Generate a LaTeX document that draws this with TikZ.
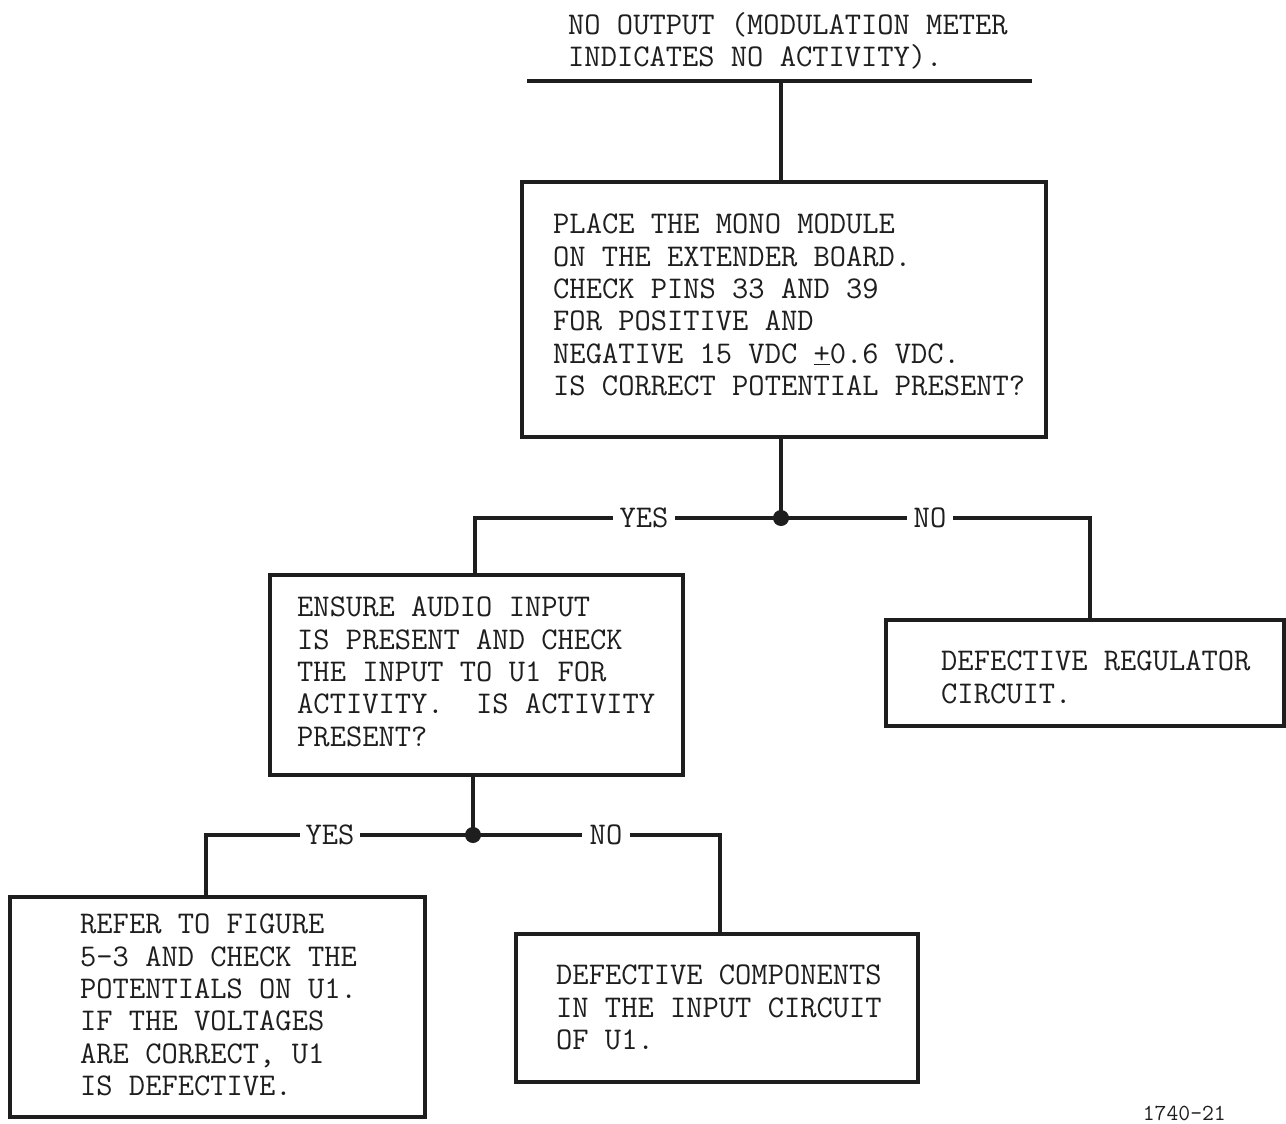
\documentclass[tikz,border=0pt]{standalone}
\usepackage{fontspec}
\usetikzlibrary{calc}
\definecolor{ink}{HTML}{1E1E1E}
\tikzset{
  frame/.style={draw=ink, line width=3.5pt, rectangle, inner sep=0pt},
  txt/.style={text=ink, inner sep=0pt, align=left, anchor=north west,
    font=\ttfamily\fontsize{31.6}{32.3}\selectfont},
  lbl/.style={text=ink, fill=white, inner sep=7pt,
    font=\ttfamily\fontsize{31.6}{32.3}\selectfont},
  wire/.style={draw=ink, line width=3.5pt},
  junc/.style={circle, fill=ink, inner sep=0pt, minimum size=16pt},
}
\begin{document}
\begin{tikzpicture}[x=1pt,y=-1pt]
\useasboundingbox (0,0) rectangle (1286,1124);
\fill[white] (0,0) rectangle (1286,1124);

% top title and line
\node[txt] (title) at (568,12) {NO OUTPUT (MODULATION METER\\INDICATES NO ACTIVITY).};
\coordinate (tl) at (527,81);
\coordinate (tr) at (1032,81);
\coordinate (tj) at (781,81);
\draw[wire] (tl) -- (tr);

% boxes
\node[frame, minimum width=524pt, minimum height=255pt] (b1) at (784,309.5) {};
\node[txt] (t1) at (553,214) {PLACE THE MONO MODULE\\ON THE EXTENDER BOARD.\\CHECK PINS 33 AND 39\\FOR POSITIVE AND\\NEGATIVE 15 VDC \underline{+}0.6 VDC.\\IS CORRECT POTENTIAL PRESENT?};

\node[frame, minimum width=413pt, minimum height=200pt] (b2) at (476.5,675) {};
\node[txt] (t2) at (297,597) {ENSURE AUDIO INPUT\\IS PRESENT AND CHECK\\THE INPUT TO U1 FOR\\ACTIVITY.\ \ IS ACTIVITY\\PRESENT?};

\node[frame, minimum width=398pt, minimum height=106pt] (b3) at (1085,673) {};
\node[txt] (t3) at (941,651) {DEFECTIVE REGULATOR\\CIRCUIT.};

\node[frame, minimum width=415pt, minimum height=220pt] (b4) at (217.5,1007) {};
\node[txt] (t4) at (80,914) {REFER TO FIGURE\\5-3 AND CHECK THE\\POTENTIALS ON U1.\\IF THE VOLTAGES\\ARE CORRECT, U1\\IS DEFECTIVE.};

\node[frame, minimum width=402pt, minimum height=148pt] (b5) at (717,1008) {};
\node[txt] (t5) at (556,965) {DEFECTIVE COMPONENTS\\IN THE INPUT CIRCUIT\\OF U1.};

% junctions
\node[junc] (j1) at (781,518) {};
\node[junc] (j2) at (473,835) {};

% connectors
\draw[wire] (tj) -- (tj |- b1.north);
\draw[wire] (j1 |- b1.south) -- (j1.center);
\draw[wire] (j1.center) -| ([xshift=-1.5pt]b2.north);
\draw[wire] (j1.center) -| ([xshift=5pt]b3.north);
\draw[wire] (j2 |- b2.south) -- (j2.center);
\draw[wire] (j2.center) -| ([xshift=-11.5pt]b4.north);
\draw[wire] (j2.center) -| ([xshift=3pt]b5.north);

% branch labels
\node[lbl] (y1) at (644,518) {YES};
\node[lbl] (n1) at (930,518) {NO};
\node[lbl, inner sep=6pt] (y2) at (330,835) {YES};
\node[lbl, inner sep=8pt] (n2) at (606,835) {NO};

% figure number
\node[text=ink, inner sep=0pt, anchor=north east,
  font=\ttfamily\fontsize{23}{24}\selectfont] (fig) at (1226,1106) {1740-21};
\end{tikzpicture}
\end{document}
